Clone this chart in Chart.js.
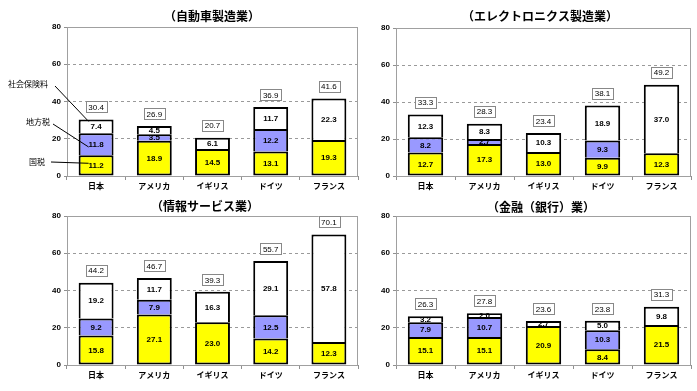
<!DOCTYPE html>
<html lang="ja">
<head>
<meta charset="UTF-8">
<title>業種別 企業負担の国際比較</title>
<script src="https://cdn.jsdelivr.net/npm/chart.js"></script>
<style>
  body { margin: 0; background: #fff; width: 697px; height: 391px; position: relative; overflow: hidden; }
  canvas { position: absolute; }
</style>
</head>
<body>
<canvas id="c1" width="365" height="195" style="left:0;top:0"></canvas>
<canvas id="c2" width="367" height="195" style="left:330px;top:0"></canvas>
<canvas id="c3" width="365" height="196" style="left:0;top:195px"></canvas>
<canvas id="c4" width="367" height="196" style="left:330px;top:195px"></canvas>

<script>
// --- data ---
const countries = ["日本", "アメリカ", "イギリス", "ドイツ", "フランス"];
const seriesNames = ["国税", "地方税", "社会保険料"];
const yTicks = [0, 20, 40, 60, 80];

const autoNational = [11.2, 18.9, 14.5, 13.1, 19.3];
const autoLocal    = [11.8, 3.5, 0, 12.2, 0];
const autoSocial   = [7.4, 4.5, 6.1, 11.7, 22.3];
const autoTotal    = [30.4, 26.9, 20.7, 36.9, 41.6];

const elecNational = [12.7, 17.3, 13.0, 9.9, 12.3];
const elecLocal    = [8.2, 2.7, 0, 9.3, 0];
const elecSocial   = [12.3, 8.3, 10.3, 18.9, 37.0];
const elecTotal    = [33.3, 28.3, 23.4, 38.1, 49.2];

const infoNational = [15.8, 27.1, 23.0, 14.2, 12.3];
const infoLocal    = [9.2, 7.9, 0, 12.5, 0];
const infoSocial   = [19.2, 11.7, 16.3, 29.1, 57.8];
const infoTotal    = [44.2, 46.7, 39.3, 55.7, 70.1];

const bankNational = [15.1, 15.1, 20.9, 8.4, 21.5];
const bankLocal    = [7.9, 10.7, 0, 10.3, 0];
const bankSocial   = [3.2, 2.0, 2.7, 5.0, 9.8];
const bankTotal    = [26.3, 27.8, 23.6, 23.8, 31.3];

const colors = ["#ffff00", "#9999ff", "#ffffff"];
const FONT = "'Noto Sans CJK JP', sans-serif";
const NUMFONT = "'Liberation Sans', Arial, sans-serif";

// plot frame + value labels + title
const decor = {
  id: "decor",
  beforeDatasetsDraw(chart) {
    const a = chart.chartArea, ctx = chart.ctx;
    ctx.save();
    ctx.strokeStyle = "#a0a0a0";
    ctx.lineWidth = 1;
    ctx.strokeRect(a.left + 0.5, a.top + 0.5, a.right - a.left - 1, a.bottom - a.top);
    ctx.restore();
  },
  afterDatasetsDraw(chart, args, opts) {
    const ctx = chart.ctx, y = chart.scales.y;
    ctx.save();
    ctx.textAlign = "center";
    ctx.textBaseline = "middle";
    ctx.fillStyle = "#000";
    ctx.font = "bold 8px " + NUMFONT;
    chart.data.datasets.forEach((ds, di) => {
      chart.getDatasetMeta(di).data.forEach((el, i) => {
        const v = ds.data[i];
        if (!v) return;
        const p = el.getProps(["x", "y", "base"], true);
        ctx.fillText(v.toFixed(1), p.x, (p.y + p.base) / 2 + 0.5);
      });
    });
    // total boxes
    ctx.font = "8px " + NUMFONT;
    opts.totals.forEach((t, i) => {
      let sum = 0;
      chart.data.datasets.forEach(ds => { sum += ds.data[i]; });
      const x = chart.getDatasetMeta(0).data[i].x;
      const cy = y.getPixelForValue(sum) - 12;
      const s = t.toFixed(1);
      const w = ctx.measureText(s).width + 5;
      ctx.fillStyle = "#fff";
      ctx.fillRect(x - w / 2, cy - 6, w, 12);
      ctx.strokeStyle = "#888";
      ctx.lineWidth = 1;
      ctx.strokeRect(Math.round(x - w / 2) + 0.5, Math.round(cy - 6) + 0.5, Math.round(w), 11);
      ctx.fillStyle = "#000";
      ctx.fillText(s, x, cy + 0.5);
    });
    // title
    ctx.font = "bold 12px " + FONT;
    ctx.fillText(opts.title, opts.titleX, opts.titleY);
    ctx.restore();
  }
};

// series callouts on the first panel
const callouts = {
  id: "callouts",
  afterDatasetsDraw(chart) {
    if (!chart.options.plugins.callouts.show) return;
    const ctx = chart.ctx, y = chart.scales.y;
    const spots = [
      { label: seriesNames[2], tx: 48, ty: 84, lx: 55, ly: 86, ds: 2, f: 0.85 },
      { label: seriesNames[1], tx: 50, ty: 122, lx: 53, ly: 124, ds: 1, f: 0.37 },
      { label: seriesNames[0], tx: 45, ty: 162, lx: 51, ly: 162, ds: 0, f: 0.6 }
    ];
    ctx.save();
    ctx.font = "8px " + FONT;
    ctx.textAlign = "right";
    ctx.textBaseline = "middle";
    ctx.fillStyle = "#000";
    ctx.strokeStyle = "#000";
    ctx.lineWidth = 1;
    spots.forEach(s => {
      ctx.fillText(s.label, s.tx, s.ty);
      const el = chart.getDatasetMeta(s.ds).data[0];
      const p = el.getProps(["x", "y", "base", "width"], true);
      const ex = p.x - p.width / 2 + 10;
      const ey = p.base + (p.y - p.base) * s.f;
      ctx.beginPath();
      ctx.moveTo(s.lx, s.ly);
      ctx.lineTo(ex, ey);
      ctx.stroke();
    });
    ctx.restore();
  }
};

function makeChart(id, national, local, social, totals, cfg) {
  const series = [national, local, social];
  new Chart(document.getElementById(id), {
    type: "bar",
    data: {
      labels: countries,
      datasets: series.map((d, k) => ({
        label: seriesNames[k],
        data: d,
        backgroundColor: colors[k],
        borderColor: "#000",
        borderWidth: 2,
        borderSkipped: k === 0 ? false : "start",
        categoryPercentage: 1,
        barPercentage: 0.6
      }))
    },
    options: {
      responsive: false,
      animation: false,
      events: [],
      layout: { padding: { top: cfg.top, right: cfg.right, left: 0, bottom: 0 } },
      plugins: {
        legend: { display: false },
        tooltip: { enabled: false },
        decor: { totals: totals, title: cfg.title, titleX: cfg.titleX, titleY: cfg.titleY },
        callouts: { show: !!cfg.callouts }
      },
      scales: {
        x: {
          stacked: true,
          afterFit: s => { s.height = cfg.xh; },
          border: { display: false },
          grid: { drawOnChartArea: false, drawTicks: true, tickLength: 4, color: "#909090", tickColor: "#909090", offset: true },
          ticks: { padding: 1, maxRotation: 0, color: "#000", font: { family: FONT, size: 8, weight: "bold" } }
        },
        y: {
          stacked: true,
          min: yTicks[0],
          max: yTicks[yTicks.length - 1],
          afterFit: s => { s.width = cfg.yw; },
          afterBuildTicks: s => { s.ticks = yTicks.map(v => ({ value: v })); },
          border: { display: false, dash: [3, 3] },
          grid: {
            color: c => (c.tick && (c.tick.value === 0 || c.tick.value === 80)) ? "rgba(0,0,0,0)" : "#9a9a9a",
            tickColor: "#909090",
            tickLength: 3,
            tickBorderDash: []
          },
          ticks: { padding: 3, color: "#000", font: { family: NUMFONT, size: 8, weight: "bold" } }
        }
      }
    },
    plugins: [decor, callouts]
  });
}

makeChart("c1", autoNational, autoLocal, autoSocial, autoTotal,
  { top: 27, right: 7, xh: 19, yw: 67, title: "（自動車製造業）", titleX: 212, titleY: 16, callouts: true });
makeChart("c2", elecNational, elecLocal, elecSocial, elecTotal,
  { top: 28, right: 6, xh: 19, yw: 66, title: "（エレクトロニクス製造業）", titleX: 210, titleY: 16 });
makeChart("c3", infoNational, infoLocal, infoSocial, infoTotal,
  { top: 21, right: 7, xh: 26, yw: 67, title: "（情報サービス業）", titleX: 205, titleY: 11 });
makeChart("c4", bankNational, bankLocal, bankSocial, bankTotal,
  { top: 21, right: 6, xh: 26, yw: 66, title: "（金融（銀行）業）", titleX: 211, titleY: 12 });
</script>
</body>
</html>
